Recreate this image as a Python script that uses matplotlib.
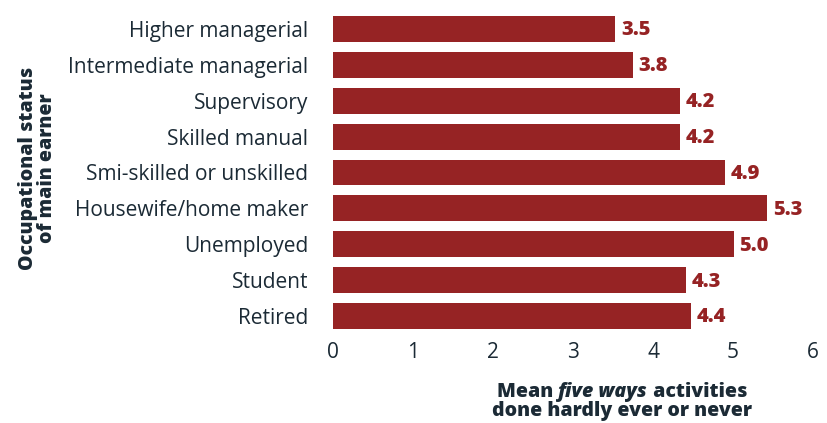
import matplotlib
matplotlib.use('Agg')
import numpy as np
import matplotlib.pyplot as plt

plt.rcParams['font.family'] = ['Open Sans', 'DejaVu Sans']

categories = ['Higher managerial', 'Intermediate managerial', 'Supervisory', 'Skilled manual',
              'Smi-skilled or unskilled', 'Housewife/home maker', 'Unemployed', 'Student', 'Retired']
# bar lengths as drawn, and the printed value labels
values = [3.53, 3.75, 4.34, 4.34, 4.9, 5.43, 5.01, 4.41, 4.47]
value_labels = ['3.5', '3.8', '4.2', '4.2', '4.9', '5.3', '5.0', '4.3', '4.4']
xticks = [0, 1, 2, 3, 4, 5, 6]

bar_color = '#962324'
text_color = '#1b2a35'

fig = plt.figure(figsize=(8.27, 4.23), dpi=100)
ax = fig.add_axes([0.4027, 0.2104, 0.5804, 0.7636])

y = np.arange(len(categories))
bars = ax.barh(y, values, height=0.72, color=bar_color)

ax.set_ylim(len(categories) - 0.5, -0.5)
ax.set_xlim(0, 6)
ax.set_yticks(y)
ax.set_yticklabels(categories, fontsize=15, color=text_color)
ax.set_xticks(xticks)
ax.set_xticklabels([str(t) for t in xticks], fontsize=15, color=text_color)
ax.tick_params(axis='y', length=0, pad=18)
ax.tick_params(axis='x', length=0, pad=6)
for s in ax.spines.values():
    s.set_visible(False)

for bar, lab in zip(bars, value_labels):
    ax.annotate(lab, (bar.get_width(), bar.get_y() + bar.get_height() / 2),
                xytext=(4, -1), textcoords='offset points', va='center', ha='left',
                fontsize=14.5, fontweight='heavy', color=bar_color)

# y axis title
fig.text(0.045, 1 - 168 / 423, 'Occupational status\nof main earner', rotation=90,
         ha='center', va='center', fontsize=14, fontweight='heavy', color=text_color,
         linespacing=0.95)

# x axis title with italic part, first line centred by measuring
cx = 622 / 827
t1 = fig.text(cx, 1 - 397 / 423, 'Mean ', ha='left', va='baseline',
              fontsize=14, fontweight='heavy', color=text_color)
t2 = fig.text(cx, 1 - 397 / 423, 'five ways', ha='left', va='baseline',
              fontsize=14, fontweight='heavy', fontstyle='italic', color=text_color)
t3 = fig.text(cx, 1 - 397 / 423, ' activities', ha='left', va='baseline',
              fontsize=14, fontweight='heavy', color=text_color)
fig.canvas.draw()
r = fig.canvas.get_renderer()
widths = [t.get_window_extent(r).width / fig.bbox.width for t in (t1, t2, t3)]
x0 = cx - sum(widths) / 2
for t, w in zip((t1, t2, t3), widths):
    t.set_x(x0)
    x0 += w
fig.text(cx, 1 - 416 / 423, 'done hardly ever or never', ha='center', va='baseline',
         fontsize=14, fontweight='heavy', color=text_color)

fig.savefig('out.png', dpi=100)
